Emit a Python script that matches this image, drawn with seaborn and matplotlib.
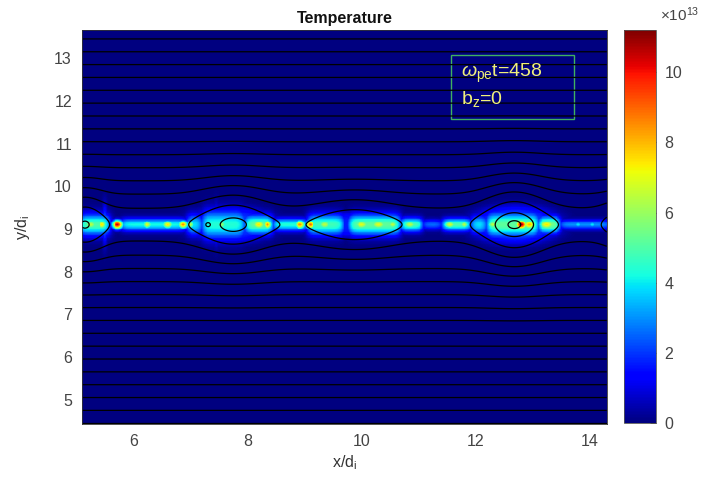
import numpy as np
import matplotlib
matplotlib.use("Agg")
import matplotlib.pyplot as plt
import seaborn as sns

# plot window (in d_i)
x_range = [5.1, 14.3]
y_range = [4.44, 13.65]
sheet_y = 9.1

# temperature along the current sheet (units of 1e13)
# segments: start x, end x, half width in y, level
seg_x1 = [5.05, 5.78, 6.93, 7.20, 7.95, 8.45, 9.05, 9.78, 10.68, 11.07, 11.42, 11.92, 12.20, 13.10, 13.48]
seg_x2 = [5.58, 6.93, 7.20, 7.95, 8.45, 9.05, 9.68, 10.68, 11.07, 11.42, 11.92, 12.20, 13.10, 13.48, 14.35]
seg_sy = [0.17, 0.10, 0.17, 0.23, 0.16, 0.10, 0.17, 0.17, 0.11, 0.08, 0.10, 0.15, 0.20, 0.14, 0.075]
seg_amp = [5.0, 4.2, 4.0, 4.4, 5.2, 4.4, 4.8, 5.2, 5.0, 2.6, 5.0, 4.0, 5.2, 5.6, 3.0]

# blue glow inside the islands: centre x, half length, half width, level
glow_x = [5.25, 7.70, 9.88, 12.70]
glow_ax = [0.40, 0.80, 0.85, 0.80]
glow_ay = [0.35, 0.42, 0.30, 0.45]
glow_amp = [2.0, 2.1, 1.7, 2.3]

# hot spots: x, half length, half width, level
hot_x = [5.25, 5.45, 5.50, 5.72, 6.24, 6.60, 6.87, 7.00, 7.45, 7.55, 8.20, 8.35, 8.92, 9.10,
         9.35, 10.00, 10.30, 10.55, 10.85, 11.55, 11.80, 12.30, 12.80, 12.95, 13.25, 13.80, 14.05]
hot_sx = [0.09, 0.06, 0.03, 0.07, 0.07, 0.07, 0.06, 0.06, 0.04, 0.07, 0.09, 0.06, 0.07, 0.06,
          0.09, 0.11, 0.11, 0.07, 0.09, 0.09, 0.07, 0.07, 0.07, 0.09, 0.11, 0.05, 0.05]
hot_sy = [0.08, 0.075, 0.30, 0.07, 0.065, 0.065, 0.065, 0.07, 0.28, 0.08, 0.08, 0.075, 0.07, 0.07,
          0.08, 0.08, 0.08, 0.07, 0.07, 0.065, 0.065, 0.07, 0.075, 0.08, 0.08, 0.05, 0.05]
hot_amp = [6.5, 7.5, 2.8, 10.5, 7.0, 7.5, 8.5, 6.5, 3.0, 6.0, 7.5, 8.5, 8.5, 9.0,
           6.5, 7.0, 7.0, 6.5, 6.5, 7.0, 6.5, 6.5, 10.8, 8.0, 7.5, 4.0, 4.0]

# magnetic islands shaping the flux contours: centre x, depth, x width, y width
isl_x = [5.15, 7.30, 7.75, 9.88, 12.68, 14.70]
isl_depth = [0.41, 0.20, 0.45, 0.35, 0.55, 0.40]
isl_wx = [0.25, 0.04, 0.44, 0.51, 0.41, 0.29]
isl_wy = [0.60, 0.05, 0.70, 0.50, 0.80, 0.60]
sheet_half = 0.25
flux_levels = [-0.28, -0.143, 0.157, 0.457, 0.757, 1.057, 1.357, 1.657, 1.957, 2.257,
               2.557, 2.857, 3.157, 3.457, 3.757, 4.057, 4.357, 4.657]

x_ticks = [6, 8, 10, 12, 14]
y_ticks = [5, 6, 7, 8, 9, 10, 11, 12, 13]
cbar_ticks = [0, 2, 4, 6, 8, 10]
t_max = 11.2

# grid
nx, ny = 560, 520
xs = np.linspace(x_range[0], x_range[1], nx)
ys = np.linspace(y_range[0], y_range[1], ny)
X, Y = np.meshgrid(xs, ys)
dy = Y - sheet_y

temp = np.zeros_like(X)
for gx, gax, gay, amp in zip(glow_x, glow_ax, glow_ay, glow_amp):
    r2 = ((X - gx) / gax) ** 2 + (dy / gay) ** 2
    temp = np.maximum(temp, amp * np.exp(-r2 ** 2))
for x1, x2, sy, amp in zip(seg_x1, seg_x2, seg_sy, seg_amp):
    box = 0.5 * (np.tanh((X - x1) / 0.07) - np.tanh((X - x2) / 0.07))
    temp = np.maximum(temp, amp * box * np.exp(-0.5 * (dy / sy) ** 2))
for hx, sx, sy, amp in zip(hot_x, hot_sx, hot_sy, hot_amp):
    temp = np.maximum(temp, amp * np.exp(-0.5 * ((X - hx) / sx) ** 2 - 0.5 * (dy / sy) ** 2))

psi = np.sqrt(dy ** 2 + sheet_half ** 2)
for cx, d, wx, wy in zip(isl_x, isl_depth, isl_wx, isl_wy):
    psi -= d * np.exp(-0.5 * ((X - cx) / wx) ** 2 - 0.5 * (dy / wy) ** 2)

dx = xs[1] - xs[0]
dyy = ys[1] - ys[0]
to_ix = lambda v: (v - xs[0]) / dx + 0.5
to_iy = lambda v: (v - ys[0]) / dyy + 0.5

sns.set_style("white")
plt.rcParams['font.family'] = ['Liberation Sans', 'DejaVu Sans']
plt.rcParams['mathtext.fontset'] = 'custom'
plt.rcParams['mathtext.rm'] = 'Liberation Sans'
plt.rcParams['mathtext.it'] = 'Liberation Sans:italic'

fig = plt.figure(figsize=(7.13, 4.8), dpi=100)
ax = fig.add_axes([0.1146, 0.1167, 0.737, 0.8208])
cax = fig.add_axes([0.875, 0.119, 0.045, 0.818])

sns.heatmap(temp, ax=ax, cbar_ax=cax, cmap='jet', vmin=0, vmax=t_max,
            xticklabels=False, yticklabels=False, rasterized=True)
ax.set_ylim(0, ny)
ax.contour(np.arange(nx) + 0.5, np.arange(ny) + 0.5, psi, levels=flux_levels,
           colors='k', linewidths=0.9, linestyles='solid')

ax.set_xticks([to_ix(v) for v in x_ticks])
ax.set_xticklabels([str(v) for v in x_ticks])
ax.set_yticks([to_iy(v) for v in y_ticks])
ax.set_yticklabels([str(v) for v in y_ticks], rotation=0)
ax.tick_params(direction='in', length=3, width=0.6, color='#222222',
               labelsize=11.5, labelcolor='#444444', pad=7)
for s in ax.spines.values():
    s.set_visible(True)
    s.set_linewidth(0.6)
    s.set_color('#333333')

ax.set_title('Temperature', fontsize=11.5, fontweight='bold', color='#111111', pad=5)
ax.set_xlabel(r'x/d$_{\rm i}$', fontsize=11.5, color='#333333', labelpad=3)
ax.set_ylabel(r'y/d$_{\rm i}$', fontsize=11.5, color='#333333', labelpad=16)

cb = ax.collections[0].colorbar
cb.set_ticks(cbar_ticks)
cb.set_ticklabels([str(v) for v in cbar_ticks])
cb.ax.tick_params(direction='in', length=4, width=0.6, color='#222222',
                  labelsize=11.5, labelcolor='#444444', pad=6)
cb.outline.set_visible(True)
cb.outline.set_linewidth(0.6)
cb.outline.set_edgecolor('#555555')
fig.text(0.925, 0.957, r'$\times10^{13}$', fontsize=11, color='#444444')

# annotation box
ax.add_patch(plt.Rectangle((0.703, 0.774), 0.234, 0.163, transform=ax.transAxes,
                           fill=False, edgecolor='#40b060', linewidth=1.0))
ax.text(0.722, 0.880, r'$\omega_{\rm pe}$t=458', transform=ax.transAxes,
        fontsize=14, color='#f0f07a', va='baseline')
ax.text(0.722, 0.812, r'b$_{\rm z}$=0', transform=ax.transAxes,
        fontsize=14, color='#f0f07a', va='baseline')

fig.savefig('out.png', dpi=100)
